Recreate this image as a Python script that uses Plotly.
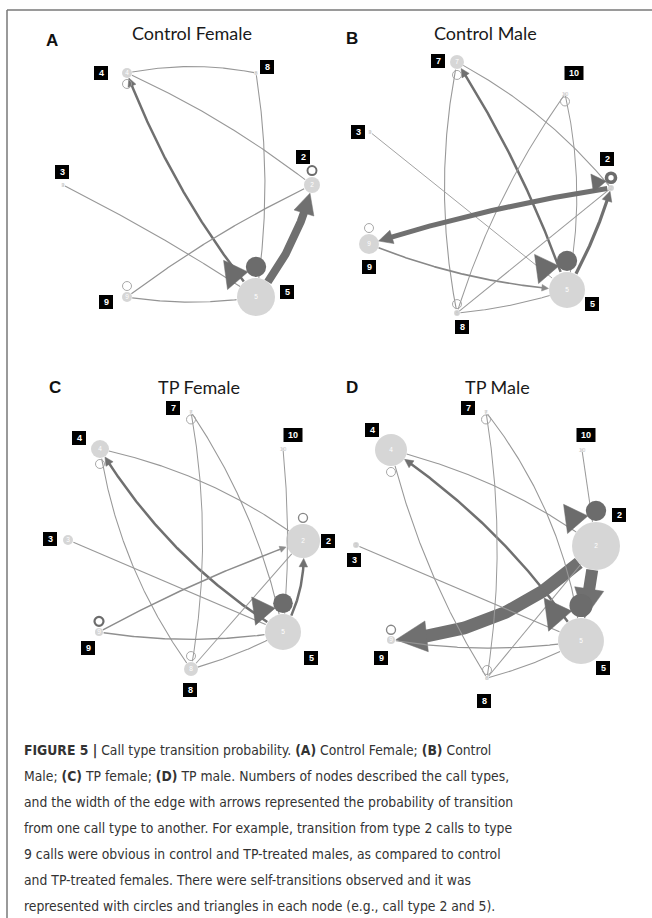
import numpy as np
import plotly.graph_objects as go

# ======================= DATA =======================
# A - Control Female
A_nodes = ["4", "8", "3", "2", "5", "9"]
A_x = [127, 256, 63, 312, 256, 127]
A_y = [73, 73, 185, 185, 297, 297]
A_freq = [0.037, 0.0033, 0.0033, 0.095, 0.534, 0.037]
A_src = ["4", "4", "5", "5", "8", "3", "9", "9"]
A_dst = ["8", "2", "4", "2", "5", "5", "2", "5"]
A_prob = [0.02, 0.02, 0.12, 0.52, 0.02, 0.02, 0.03, 0.03]
A_loop_node = ["4", "9", "2", "5"]
A_loop_prob = [0.01, 0.01, 0.08, 0.75]

# B - Control Male
B_nodes = ["7", "10", "3", "2", "9", "5", "8"]
B_x = [131, 239, 44, 285, 43, 241, 131]
B_y = [62, 94, 132, 188, 244, 290, 313]
B_freq = [0.072, 0.0033, 0.0033, 0.013, 0.148, 0.479, 0.013]
B_src = ["5", "7", "7", "10", "10", "3", "2", "9", "5", "8", "8"]
B_dst = ["7", "2", "8", "8", "5", "5", "9", "5", "2", "2", "5"]
B_prob = [0.12, 0.02, 0.02, 0.015, 0.015, 0.01, 0.30, 0.06, 0.17, 0.015, 0.02]
B_loop_node = ["7", "10", "9", "8", "2", "5"]
B_loop_prob = [0.01, 0.01, 0.01, 0.01, 0.2, 0.75]

# C - TP Female
C_nodes = ["7", "10", "4", "3", "2", "5", "9", "8"]
C_x = [191, 283, 100, 68, 303, 283, 99, 191]
C_y = [72, 109, 109, 200, 201, 292, 292, 329]
C_freq = [0.0033, 0.0033, 0.12, 0.037, 0.428, 0.479, 0.024, 0.072]
C_src = ["5", "4", "4", "7", "7", "10", "3", "9", "9", "8", "8", "5"]
C_dst = ["4", "2", "8", "8", "5", "5", "5", "2", "5", "2", "5", "2"]
C_prob = [0.12, 0.02, 0.02, 0.015, 0.02, 0.015, 0.02, 0.05, 0.04, 0.015, 0.02, 0.12]
C_loop_node = ["7", "4", "2", "9", "5", "8"]
C_loop_prob = [0.01, 0.01, 0.04, 0.1, 0.7, 0.01]

# D - TP Male
D_nodes = ["7", "10", "4", "3", "2", "5", "9", "8"]
D_x = [160, 256, 65, 30, 270, 255, 65, 161]
D_y = [72, 110, 110, 205, 206, 301, 300, 338]
D_freq = [0.0033, 0.0033, 0.379, 0.013, 0.852, 0.78, 0.024, 0.006]
D_src = ["2", "5", "4", "4", "7", "7", "10", "3", "9", "8", "8", "2"]
D_dst = ["9", "4", "2", "8", "8", "5", "2", "5", "5", "2", "5", "5"]
D_prob = [0.85, 0.12, 0.02, 0.02, 0.015, 0.02, 0.015, 0.02, 0.03, 0.015, 0.02, 0.8]
D_loop_node = ["7", "4", "9", "8", "2", "5"]
D_loop_prob = [0.01, 0.01, 0.04, 0.01, 0.75, 0.95]

caption_lines = [
    "<b>FIGURE 5 |</b> Call type transition probability. <b>(A)</b> Control Female; <b>(B)</b> Control",
    "Male; <b>(C)</b> TP female; <b>(D)</b> TP male. Numbers of nodes described the call types,",
    "and the width of the edge with arrows represented the probability of transition",
    "from one call type to another. For example, transition from type 2 calls to type",
    "9 calls were obvious in control and TP-treated males, as compared to control",
    "and TP-treated females. There were self-transitions observed and it was",
    "represented with circles and triangles in each node (e.g., call type 2 and 5).",
]

# ======================= STYLE (layout of drawing) =======================
A_style = dict(
    bend=[0.05, 0.03, 0.04, -0.06, 0.04, 0.015, 0.025, -0.04],
    loop_dir=["down", "up", "up", "up"],
    label_off={"4": (-26, 0), "8": (11, -6), "3": (-1, -13), "2": (-9, -28),
               "9": (-21, 5), "5": (31, -5)},
    title=("Control Female", 192, 33), letter=("A", 52, 40))
B_style = dict(
    bend=[-0.03, 0.05, -0.05, -0.04, 0.055, 0.0, -0.02, -0.04, -0.03, 0.0, -0.03],
    loop_dir=["down", "down", "up", "up", "up", "up"],
    label_off={"7": (-19, -1), "10": (9, -21), "3": (-12, 0), "2": (-4, -29),
               "9": (0, 23), "5": (25, 14), "8": (5, 14)},
    title=("Control Male", 159, 33), letter=("B", 26, 38))
C_style = dict(
    bend=[0.06, 0.055, -0.06, 0.045, 0.05, 0.025, 0.0, 0.02, -0.04, 0.0, -0.03, -0.08],
    loop_dir=["down", "down", "up", "up", "up", "up"],
    label_off={"7": (-18, -4), "10": (10, -14), "4": (-21, -11), "3": (-18, -1),
               "2": (25, 0), "5": (28, 26), "9": (-11, 16), "8": (-1, 21)},
    title=("TP Female", 199, 47), letter=("C", 55, 47))
D_style = dict(
    bend=[0.1, -0.05, 0.05, -0.04, 0.04, 0.07, 0.0, 0.0, -0.04, 0.0, -0.03, 0.0],
    loop_dir=["down", "down", "up", "up", "up", "up"],
    label_off={"7": (-18, -4), "10": (4, -15), "4": (-19, -20), "3": (-2, 15),
               "2": (23, -31), "9": (-10, 18), "5": (22, 27), "8": (-3, 23)},
    title=("TP Male", 171, 47), letter=("D", 26, 47))

W, H = 652, 918
TOP_H, BOT_H = 340, 380
LEFT_W = 345   # left panels overlap slightly so nothing is clipped

panels = [
    dict(nodes=A_nodes, x=A_x, y=A_y, freq=A_freq, src=A_src, dst=A_dst, prob=A_prob,
         lnode=A_loop_node, lprob=A_loop_prob, st=A_style, ax=("x", "y")),
    dict(nodes=B_nodes, x=B_x, y=B_y, freq=B_freq, src=B_src, dst=B_dst, prob=B_prob,
         lnode=B_loop_node, lprob=B_loop_prob, st=B_style, ax=("x2", "y2")),
    dict(nodes=C_nodes, x=C_x, y=C_y, freq=C_freq, src=C_src, dst=C_dst, prob=C_prob,
         lnode=C_loop_node, lprob=C_loop_prob, st=C_style, ax=("x3", "y3")),
    dict(nodes=D_nodes, x=D_x, y=D_y, freq=D_freq, src=D_src, dst=D_dst, prob=D_prob,
         lnode=D_loop_node, lprob=D_loop_prob, st=D_style, ax=("x4", "y4")),
]


def gray(l):
    l = int(l)
    return f"rgb({l},{l},{l})"


def bezier(p0, p2, bend, n=200):
    d = p2 - p0
    L = np.hypot(*d)
    perp = np.array([d[1], -d[0]]) / L
    p1 = (p0 + p2) / 2 + 2 * bend * L * perp
    t = np.linspace(0, 1, n)[:, None]
    return (1 - t) ** 2 * p0 + 2 * (1 - t) * t * p1 + t ** 2 * p2


def edge_width(p):
    return 0.8 + 14 * p


def node_radius(f):
    return 26 * np.sqrt(f)


fig = go.Figure()
shapes = []
annotations = []


def add_poly(pts, col, xa, ya):
    fig.add_trace(go.Scatter(x=pts[:, 0], y=pts[:, 1], mode="lines", fill="toself",
                             fillcolor=col, line=dict(color=col, width=0.5),
                             xaxis=xa, yaxis=ya, hoverinfo="skip", showlegend=False))


for P in panels:
    xa, ya = P["ax"]
    st = P["st"]
    pos = {k: np.array([x, y], float) for k, x, y in zip(P["nodes"], P["x"], P["y"])}
    rad = {k: node_radius(f) for k, f in zip(P["nodes"], P["freq"])}

    # ---- edges ----
    for s, d, p, b in zip(P["src"], P["dst"], P["prob"], st["bend"]):
        w = edge_width(p)
        col = gray(max(112, 160 - 400 * p))
        p0, p2 = pos[s], pos[d]
        pts = bezier(p0, p2, b)
        ds = np.hypot(*(pts - p0).T)
        dd = np.hypot(*(pts - p2).T)
        arrow = w >= 1.5
        alen = 3 + 2.2 * w
        ahw = 1.5 + 1.1 * w
        keep = (ds >= rad[s]) & (dd >= rad[d] + (0.7 * alen if arrow else 0))
        seg = pts[keep]
        fig.add_trace(go.Scatter(x=seg[:, 0], y=seg[:, 1], mode="lines",
                                 line=dict(color=col, width=w),
                                 xaxis=xa, yaxis=ya, hoverinfo="skip", showlegend=False))
        if arrow:
            idx = np.where(dd >= rad[d])[0][-1]
            tip = pts[idx]
            j = np.where(dd >= rad[d] + alen)[0][-1]
            u = tip - pts[j]
            u = u / np.hypot(*u)
            nvec = np.array([-u[1], u[0]])
            base = tip - alen * u
            tri = np.array([tip, base + ahw * nvec, base - ahw * nvec, tip])
            add_poly(tri, col, xa, ya)

    # ---- nodes ----
    sizes = [max(2 * rad[k], 3) for k in P["nodes"]]
    cols = ["rgb(196,196,196)" if rad[k] >= 2.5 else "rgb(214,214,214)" for k in P["nodes"]]
    fig.add_trace(go.Scatter(x=P["x"], y=P["y"], mode="markers",
                             marker=dict(size=sizes, color=cols, line=dict(width=0)),
                             xaxis=xa, yaxis=ya, hoverinfo="skip", showlegend=False))

    # ---- self loops (ring markers + arrow triangles) ----
    for k, p, dr in zip(P["lnode"], P["lprob"], st["loop_dir"]):
        w = edge_width(p)
        rl = 4.5
        outer = rl + w / 2
        col = gray(max(108, 170 - 900 * p))
        u = np.array([0.0, -1.0]) if dr == "up" else np.array([0.0, 1.0])
        v = np.array([u[1], -u[0]])
        R = rad[k]
        c = pos[k] + u * (R + outer + 1)
        filled = w >= 1.6 * rl
        if filled:
            mk = dict(size=2 * outer, color=col, line=dict(width=0))
        else:
            mk = dict(size=2 * rl, color="rgba(0,0,0,0)", line=dict(color=col, width=w))
        fig.add_trace(go.Scatter(x=[c[0]], y=[c[1]], mode="markers", marker=mk,
                                 xaxis=xa, yaxis=ya, hoverinfo="skip", showlegend=False))
        if w >= 3:
            tip = pos[k] + u * (R + 0.6 * outer) + v * (0.8 * outer)
            base = pos[k] + u * (R + 0.3 * outer) + v * (3.0 * outer)
            dvec = tip - base
            dvec = dvec / np.hypot(*dvec)
            nvec = np.array([-dvec[1], dvec[0]])
            tri = np.array([tip, base + 1.45 * outer * nvec, base - 1.45 * outer * nvec, tip])
            add_poly(tri, col, xa, ya)

    # ---- node numbers inside nodes ----
    big = [k for k in P["nodes"] if rad[k] >= 3.5]
    small = [k for k in P["nodes"] if rad[k] < 3.5]
    fig.add_trace(go.Scatter(x=[pos[k][0] for k in big], y=[pos[k][1] for k in big],
                             mode="text", text=big,
                             textfont=dict(size=6.5, color="white", family="Liberation Sans"),
                             xaxis=xa, yaxis=ya, hoverinfo="skip", showlegend=False))
    fig.add_trace(go.Scatter(x=[pos[k][0] for k in small], y=[pos[k][1] for k in small],
                             mode="text", text=small,
                             textfont=dict(size=6, color="rgb(200,200,200)", family="Liberation Sans"),
                             xaxis=xa, yaxis=ya, hoverinfo="skip", showlegend=False))

    # ---- black label boxes ----
    for k in P["nodes"]:
        dx, dy = st["label_off"][k]
        cx, cy = pos[k][0] + dx, pos[k][1] + dy
        bw = 14 if len(k) == 1 else 19
        shapes.append(dict(type="rect", xref=xa, yref=ya, x0=cx - bw / 2, x1=cx + bw / 2,
                           y0=cy - 7, y1=cy + 7, fillcolor="black", line=dict(width=0),
                           layer="above"))
        annotations.append(dict(x=cx, y=cy, xref=xa, yref=ya, text=f"<b>{k}</b>",
                                showarrow=False, xanchor="center", yanchor="middle",
                                font=dict(size=9, color="white", family="Liberation Sans")))

    # ---- titles ----
    t, tx, ty = st["title"]
    annotations.append(dict(x=tx, y=ty, xref=xa, yref=ya, text=t, showarrow=False,
                            xanchor="center", yanchor="middle",
                            font=dict(size=18, color="#1a1a1a", family="Lato")))
    l, lx, ly = st["letter"]
    annotations.append(dict(x=lx, y=ly, xref=xa, yref=ya, text=f"<b>{l}</b>", showarrow=False,
                            xanchor="center", yanchor="middle",
                            font=dict(size=17, color="#111111", family="Liberation Sans")))

# ---- caption ----
for i, line in enumerate(caption_lines):
    yy = 750 + 26 * i
    annotations.append(dict(x=22 / W, y=1 - yy / H, xref="paper", yref="paper", text=line,
                            showarrow=False, xanchor="left", yanchor="middle",
                            font=dict(size=13.8, color="#333333",
                                      family="Liberation Sans Narrow, DejaVu Sans Condensed, Arial Narrow, sans-serif")))

# ---- frame lines ----
shapes.append(dict(type="line", xref="paper", yref="paper", x0=7 / W, x1=7 / W,
                   y0=0, y1=1 - 10 / H, line=dict(color="rgb(120,120,120)", width=1.5)))
shapes.append(dict(type="line", xref="paper", yref="paper", x0=7 / W, x1=1,
                   y0=1 - 10 / H, y1=1 - 10 / H, line=dict(color="rgb(120,120,120)", width=1.5)))

ax_common = dict(visible=False, showgrid=False, zeroline=False, fixedrange=True)
top_dom = [1 - TOP_H / H, 1]
bot_dom = [1 - (TOP_H + BOT_H) / H, 1 - TOP_H / H]
left_dom = [0, LEFT_W / W]
right_dom = [326 / W, 1]
fig.update_layout(
    width=W, height=H, margin=dict(l=0, r=0, t=0, b=0),
    paper_bgcolor="white", plot_bgcolor="rgba(0,0,0,0)",
    showlegend=False,
    xaxis=dict(domain=left_dom, range=[0, LEFT_W], anchor="y", **ax_common),
    yaxis=dict(domain=top_dom, range=[TOP_H, 0], anchor="x", **ax_common),
    xaxis2=dict(domain=right_dom, range=[0, 326], anchor="y2", **ax_common),
    yaxis2=dict(domain=top_dom, range=[TOP_H, 0], anchor="x2", **ax_common),
    xaxis3=dict(domain=left_dom, range=[0, LEFT_W], anchor="y3", **ax_common),
    yaxis3=dict(domain=bot_dom, range=[BOT_H, 0], anchor="x3", **ax_common),
    xaxis4=dict(domain=right_dom, range=[0, 326], anchor="y4", **ax_common),
    yaxis4=dict(domain=bot_dom, range=[BOT_H, 0], anchor="x4", **ax_common),
    shapes=shapes, annotations=annotations,
)

fig.write_html("out.html", config={"displayModeBar": False, "staticPlot": True},
               post_script="document.body.style.margin='0';document.body.style.overflow='hidden';")
